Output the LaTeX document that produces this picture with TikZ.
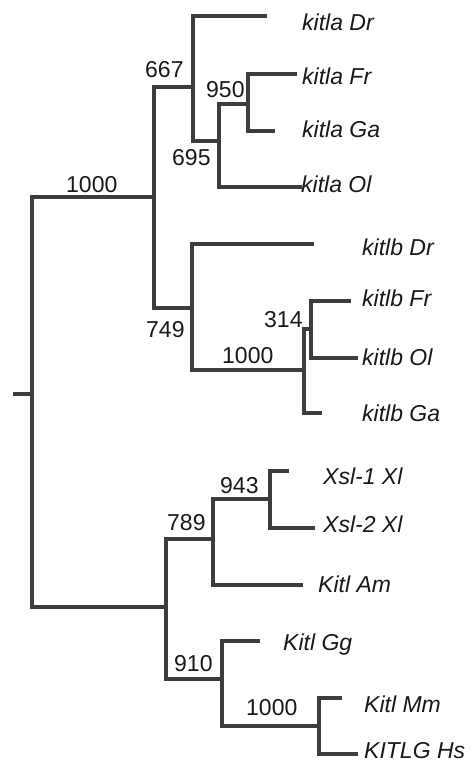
\documentclass[tikz,border=0pt]{standalone}
\usepackage{fontspec}
\setmainfont{Liberation Sans}
\begin{document}
\begin{tikzpicture}[x=1pt,y=-1pt,
  br/.style={draw=black!76, line width=3.2pt, line cap=rect, line join=miter},
  leaf/.style={anchor=base west, inner sep=0pt, font=\fontsize{23}{23}\selectfont\itshape, text=black!90},
  boot/.style={anchor=base west, inner sep=0pt, font=\fontsize{23}{23}\selectfont, text=black!90}]
\useasboundingbox (0,0) rectangle (471,762);
\fill[white] (0,0) rectangle (471,762);
% internal nodes
\coordinate (stub) at (15,394);
\coordinate (root) at (32,394);
\coordinate (a1000) at (154,197);
\coordinate (a667) at (193,87);
\coordinate (a695) at (219,141);
\coordinate (a950) at (248,104);
\coordinate (b749) at (192,308);
\coordinate (b1000) at (304,370);
\coordinate (b314) at (311,329);
\coordinate (c) at (166,607);
\coordinate (c789) at (213,539);
\coordinate (c943) at (270,499);
\coordinate (c910) at (222,679);
\coordinate (c1000) at (319,726);
% leaf ends
\coordinate (eaDr) at (265,16);
\coordinate (eaFr) at (295,74);
\coordinate (eaGa) at (273,131);
\coordinate (eaOl) at (300,187);
\coordinate (ebDr) at (312,244);
\coordinate (ebFr) at (349,301);
\coordinate (ebOl) at (356,358);
\coordinate (ebGa) at (320,413);
\coordinate (eX1) at (287,471);
\coordinate (eX2) at (313,528);
\coordinate (eAm) at (301,585);
\coordinate (eGg) at (258,641);
\coordinate (eMm) at (340,698);
\coordinate (eHs) at (356,754);
% branches
\draw[br] (stub) -- (root);
\draw[br] (root) |- (a1000);
\draw[br] (root) |- (c);
\draw[br] (a1000) |- (a667);
\draw[br] (a1000) |- (b749);
\draw[br] (a667) |- (eaDr);
\draw[br] (a667) |- (a695);
\draw[br] (a695) |- (a950);
\draw[br] (a695) |- (eaOl);
\draw[br] (a950) |- (eaFr);
\draw[br] (a950) |- (eaGa);
\draw[br] (b749) |- (ebDr);
\draw[br] (b749) |- (b1000);
\draw[br] (b1000) |- (b314);
\draw[br] (b1000) |- (ebGa);
\draw[br] (b314) |- (ebFr);
\draw[br] (b314) |- (ebOl);
\draw[br] (c) |- (c789);
\draw[br] (c) |- (c910);
\draw[br] (c789) |- (c943);
\draw[br] (c789) |- (eAm);
\draw[br] (c943) |- (eX1);
\draw[br] (c943) |- (eX2);
\draw[br] (c910) |- (eGg);
\draw[br] (c910) |- (c1000);
\draw[br] (c1000) |- (eMm);
\draw[br] (c1000) |- (eHs);
% leaf labels
\node[leaf] (taDr) at (302,31) {kitla Dr};
\node[leaf] (taFr) at (302,85) {kitla Fr};
\node[leaf] (taGa) at (302,138) {kitla Ga};
\node[leaf] (taOl) at (301,193) {kitla Ol};
\node[leaf] (tbDr) at (362,255) {kitlb Dr};
\node[leaf] (tbFr) at (362,306) {kitlb Fr};
\node[leaf] (tbOl) at (362,365) {kitlb Ol};
\node[leaf] (tbGa) at (362,421) {kitlb Ga};
\node[leaf] (tX1) at (323,484) {Xsl-1 Xl};
\node[leaf] (tX2) at (323,532) {Xsl-2 Xl};
\node[leaf] (tAm) at (318,592) {Kitl Am};
\node[leaf] (tGg) at (283,650) {Kitl Gg};
\node[leaf] (tMm) at (364,712) {Kitl Mm};
\node[leaf] (tHs) at (364,758) {KITLG Hs};
% bootstrap values
\node[boot] (v667) at (145,78) {667};
\node[boot] (v950) at (206,98) {950};
\node[boot] (v695) at (172,165) {695};
\node[boot] (v1000a) at (66,192) {1000};
\node[boot] (v749) at (146,337) {749};
\node[boot] (v314) at (264,327) {314};
\node[boot] (v1000b) at (222,363) {1000};
\node[boot] (v943) at (220,493) {943};
\node[boot] (v789) at (167,530) {789};
\node[boot] (v910) at (174,671) {910};
\node[boot] (v1000c) at (246,715) {1000};
\end{tikzpicture}
\end{document}
